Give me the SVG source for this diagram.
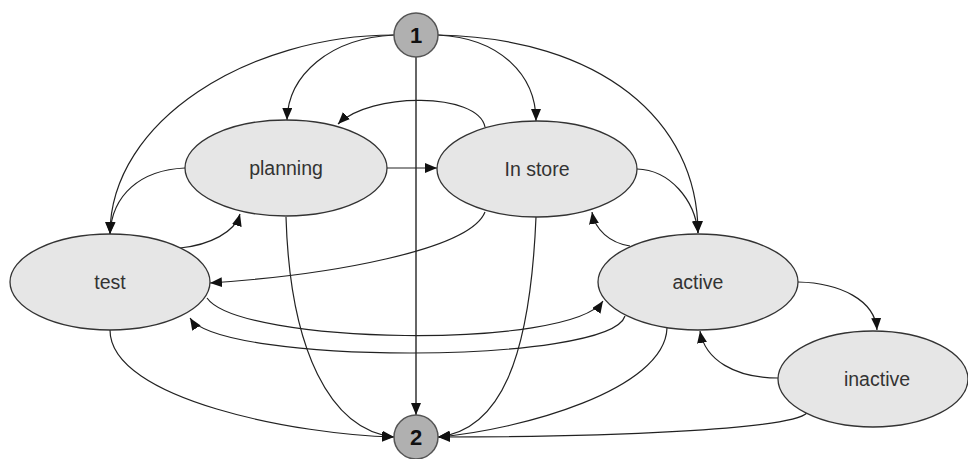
<svg xmlns="http://www.w3.org/2000/svg" width="968" height="459" viewBox="0 0 968 459">
  <style>
    .state ellipse { fill: #e6e6e6; stroke: #333; stroke-width: 1.3; }
    .state text { font-family: "Liberation Sans", Arial, sans-serif; font-size: 19.5px; fill: #333; text-anchor: middle; dominant-baseline: central; }
    .term circle { fill: #b0b0b0; stroke: #555; stroke-width: 1.5; }
    .term text { font-family: "Liberation Sans", Arial, sans-serif; font-size: 22px; font-weight: bold; fill: #111; text-anchor: middle; dominant-baseline: central; }
    .edge { fill: none; stroke: #222; stroke-width: 1.2; marker-end: url(#arrow); }
    .edge.main { stroke: #666; stroke-width: 2; }
  </style>
  <defs>
    <marker id="arrow" markerUnits="userSpaceOnUse" markerWidth="12" markerHeight="10" viewBox="0 0 12 10" refX="12" refY="5" orient="auto">
      <path d="M0,0 L12,5 L0,10 Z" fill="#111"/>
    </marker>
  </defs>

  <rect width="968" height="459" fill="#fff"/>

  <!-- transitions -->
  <g id="connectors">
    <path class="edge main" d="M416,57 L416,415"/>
    <path class="edge" d="M394,35 C250,35 110,120 110,234"/>
    <path class="edge" d="M394,35 C330,38 288,75 287,120"/>
    <path class="edge" d="M438,35 C500,38 536,75 536,121"/>
    <path class="edge" d="M438,35 C600,38 698,120 698,233"/>
    <path class="edge" d="M387,168 L437,168"/>
    <path class="edge" d="M485,127 C478,92 370,92 338,124"/>
    <path class="edge" d="M185,168 C140,170 112,195 110,234"/>
    <path class="edge" d="M180,248 C210,245 235,232 240,214"/>
    <path class="edge" d="M485,212 C470,250 330,275 210,283"/>
    <path class="edge" d="M207,298 C240,345 570,350 603,301"/>
    <path class="edge" d="M625,316 C610,365 220,365 190,318"/>
    <path class="edge" d="M286,217 C290,350 330,430 394,437"/>
    <path class="edge" d="M536,217 C530,360 500,430 438,437"/>
    <path class="edge" d="M110,330 C110,400 300,435 394,437"/>
    <path class="edge" d="M667,328 C665,390 520,430 438,437"/>
    <path class="edge" d="M807,413 C790,430 600,437 438,437"/>
    <path class="edge" d="M637,169 C670,170 695,200 698,233"/>
    <path class="edge" d="M630,246 C610,243 595,230 592,212"/>
    <path class="edge" d="M798,282 C840,283 875,300 877,330"/>
    <path class="edge" d="M778,378 C735,378 705,360 700,331"/>
  </g>

  <!-- states -->
  <g id="node-start" class="term">
    <circle cx="416" cy="35" r="22"/>
    <text x="416" y="35">1</text>
  </g>
  <g id="node-end" class="term">
    <circle cx="416" cy="437" r="22"/>
    <text x="416" y="437">2</text>
  </g>
  <g id="node-planning" class="state">
    <ellipse cx="286" cy="168" rx="101" ry="48"/>
    <text x="286" y="168">planning</text>
  </g>
  <g id="node-instore" class="state">
    <ellipse cx="537" cy="169" rx="100" ry="48"/>
    <text x="537" y="169">In store</text>
  </g>
  <g id="node-test" class="state">
    <ellipse cx="110" cy="282" rx="100" ry="48"/>
    <text x="110" y="282">test</text>
  </g>
  <g id="node-active" class="state">
    <ellipse cx="698" cy="282" rx="100" ry="48"/>
    <text x="698" y="282">active</text>
  </g>
  <g id="node-inactive" class="state">
    <ellipse cx="873" cy="379" rx="95" ry="48"/>
    <text x="877" y="379">inactive</text>
  </g>
</svg>
